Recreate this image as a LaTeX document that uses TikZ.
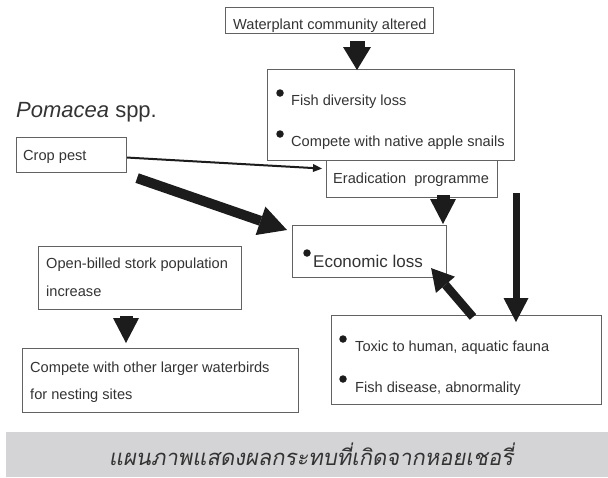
\documentclass[tikz,border=0pt]{standalone}
\usepackage{fontspec}
\setmainfont{Liberation Sans}
\newfontfamily\thaifont[Script=Thai,FakeSlant=0.18]{Loma}
\usetikzlibrary{arrows.meta,calc}
\definecolor{boxgray}{HTML}{626262}
\definecolor{txtgray}{HTML}{333333}
\definecolor{arrowblk}{HTML}{1C1C1C}
\definecolor{bandgray}{HTML}{D4D4D6}
\tikzset{
  box/.style={draw=boxgray, line width=1.1pt, anchor=north west, inner sep=0pt},
  txt/.style={anchor=base west, inner sep=0pt, text=txtgray, font=\fontsize{14.6}{16}\selectfont},
  dot/.style={circle, fill=arrowblk, inner sep=0pt, minimum size=7.5pt},
  fat/.style={draw=arrowblk, line width=#1},
  thinarrow/.style={draw=arrowblk, line width=2pt, -{Triangle[width=8pt,length=9pt,line width=0pt]}}
}
\begin{document}
\begin{tikzpicture}[x=1pt,y=-1pt]
\useasboundingbox (0,0) rectangle (608,477);
% grey band
\fill[bandgray] (6,432) rectangle (608,477);
\node[anchor=base, inner sep=0pt, text=txtgray, font=\thaifont\fontsize{22}{24}\selectfont] (caption) at (311,465) {แผนภาพแสดงผลกระทบที่เกิดจากหอยเชอรี่};
% title
\node[anchor=base west, inner sep=0pt, text=txtgray, font=\fontsize{22}{24}\selectfont] (title) at (16,117) {\textit{Pomacea} spp.};
% boxes
\node[box, minimum width=208pt, minimum height=26pt] (water) at (225,7) {};
\node[box, minimum width=247pt, minimum height=91pt] (fish) at (267,69) {};
\node[box, minimum width=171pt, minimum height=37pt] (erad) at (326,160) {};
\node[box, minimum width=110pt, minimum height=35pt] (crop) at (16,137) {};
\node[box, minimum width=154pt, minimum height=52pt] (econ) at (292,225) {};
\node[box, minimum width=203pt, minimum height=63pt] (open) at (38,246) {};
\node[box, minimum width=276pt, minimum height=64pt] (compete) at (22,348) {};
\node[box, minimum width=270pt, minimum height=89pt] (toxic) at (331,315) {};
% texts
\node[txt] (twater) at (233,29) {Waterplant community altered};
\node[dot] (b1) at (280,93) {};
\node[txt] (tfish1) at (291,105.5) {Fish diversity loss};
\node[dot] (b2) at (280,134) {};
\node[txt] (tfish2) at (291,146) {Compete with native apple snails};
\node[txt] (terad) at (333,183) {Eradication\ \ programme};
\node[txt] (tcrop) at (23,160) {Crop pest};
\node[dot] (b3) at (307,253) {};
\node[txt, font=\fontsize{17}{19}\selectfont] (tecon) at (313,267) {Economic loss};
\node[txt] (topen1) at (46,268) {Open-billed stork population};
\node[txt] (topen2) at (46,296) {increase};
\node[txt] (tcomp1) at (30,372) {Compete with other larger waterbirds};
\node[txt] (tcomp2) at (30,399) {for nesting sites};
\node[dot] (b4) at (343,339) {};
\node[txt] (ttox1) at (355,351) {Toxic to human, aquatic fauna};
\node[dot] (b5) at (343,379) {};
\node[txt] (ttox2) at (355,392) {Fish disease, abnormality};
% connectors
\coordinate (rtop) at (516,193);
\draw[fat=15pt, -{Triangle[width=28pt,length=23pt,line width=0pt]}]
  ($(water.south west)+(132,7)$) -- ($(fish.north west)+(90,1)$);
\draw[fat=13pt, -{Triangle[width=26pt,length=25pt,line width=0pt]}]
  ($(erad.south west)+(117,-3)$) -- ($(econ.north west)+(151,-1)$);
\draw[fat=13pt, -{Triangle[width=26pt,length=25pt,line width=0pt]}]
  ($(open.south west)+(88,6)$) -- ($(compete.north west)+(104,-5)$);
\draw[fat=10pt, -{Triangle[width=30pt,length=28pt,line width=0pt]}]
  ($(crop.south east)+(10,5)$) -- ($(econ.north west)+(-5,5)$);
\draw[thinarrow] ($(crop.east)+(0,2.5)$) -- ($(erad.west)+(-4,-10.5)$);
\draw[fat=7pt, -{Triangle[width=25pt,length=24pt,line width=0pt]}]
  (rtop) -- ($(toxic.north west)+(185,7)$);
\draw[fat=8.5pt, -{Triangle[width=25pt,length=22pt,line width=0pt]}]
  ($(toxic.north west)+(142,2)$) -- ($(econ.south east)+(-16,-10)$);
\end{tikzpicture}
\end{document}
